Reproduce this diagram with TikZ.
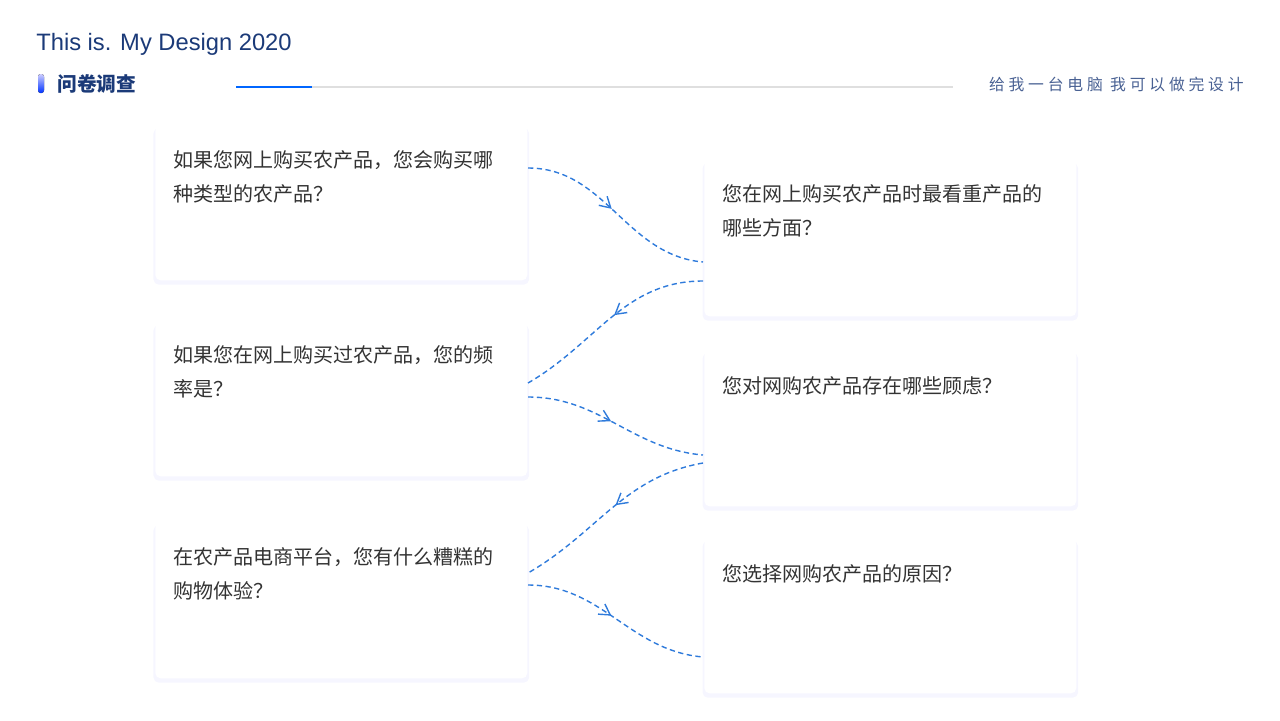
\documentclass[tikz,border=0pt]{standalone}
\usepackage{fontspec}
\setmainfont{Liberation Sans}
\newfontfamily\cjk{Noto Sans CJK SC}
\newfontfamily\cjkwide[LetterSpace=24]{Noto Sans CJK SC}
\usetikzlibrary{positioning,shadows,decorations.markings,arrows.meta}
\definecolor{navy}{HTML}{1B3A78}
\definecolor{linkblue}{HTML}{2F7BDB}
\definecolor{qtext}{HTML}{333333}
\tikzset{
  card/.style={fill=white, rounded corners=3pt, minimum width=7.44cm, anchor=north west,
    drop shadow={shadow xshift=0pt, shadow yshift=-2pt, shadow scale=1.01, fill=blue!20, opacity=0.18}},
  qlabel/.style={anchor=north west, align=left, text=qtext, font=\cjk\fontsize{11.4}{19.5}\selectfont},
  flow/.style={linkblue, dashed, thick, dash pattern=on 3pt off 2pt,
    postaction={decorate}, decoration={markings,
      mark=at position 0.47 with {\arrow[solid]{Straight Barb[length=6pt,width=7pt]}}}}
}
\begin{document}
\begin{tikzpicture}[x=0.02cm,y=-0.02cm]
    \useasboundingbox (0,0) rectangle (1280,720);
    % Header
    \node[anchor=west, text=navy, font=\fontsize{13.5}{16}\selectfont, inner sep=0] (title) at (36,44) {This is. My Design 2020};
    \fill[top color=blue!20, bottom color=blue!80!cyan, rounded corners=1.5pt] (38,74) rectangle (44,93);
    \node[anchor=west, text=navy, font=\cjk\bfseries\fontsize{11.2}{14}\selectfont, inner sep=0] (section) at (57,84) {问卷调查};
    \draw[gray!25, line width=0.6pt] (236,87) -- (953,87);
    \draw[blue!60!cyan, line width=1.6pt] (236,87) -- (312,87);
    \node[anchor=east, text=navy!80, font=\cjkwide\fontsize{9}{11}\selectfont, inner sep=0] (slogan) at (1244,84) {给我一台电脑 我可以做完设计};

    % Cards
    \node[card, minimum height=3.1cm] (L1) at (155,125) {};
    \node[card, minimum height=3.08cm] (L2) at (155,322) {};
    \node[card, minimum height=3.12cm] (L3) at (155,522) {};
    \node[card, minimum height=3.12cm] (R1) at (704,160) {};
    \node[card, minimum height=3.12cm] (R2) at (704,350) {};
    \node[card, minimum height=3.1cm] (R3) at (704,538) {};

    % Questions
    \node[qlabel] (q1) at (167,144) {如果您网上购买农产品，您会购买哪\\种类型的农产品？};
    \node[qlabel] (q2) at (167,339) {如果您在网上购买过农产品，您的频\\率是？};
    \node[qlabel] (q3) at (167,541) {在农产品电商平台，您有什么糟糕的\\购物体验？};
    \node[qlabel] (q4) at (716,178) {您在网上购买农产品时最看重产品的\\哪些方面？};
    \node[qlabel] (q5) at (716,370) {您对网购农产品存在哪些顾虑？};
    \node[qlabel] (q6) at (716,558) {您选择网购农产品的原因？};

    % Connectors
    \coordinate (a1) at (528,168);
    \coordinate (b1) at (703,262);
    \coordinate (b2) at (703,281);
    \coordinate (a2) at (528,383);
    \coordinate (a3) at (528,397);
    \coordinate (b3) at (703,455);
    \coordinate (b4) at (703,463);
    \coordinate (a4) at (528,573);
    \coordinate (a5) at (528,585);
    \coordinate (b5) at (703,657);
    \draw[flow] (a1) to[out=0, in=175] (b1);
    \draw[flow] (b2) to[out=180, in=30] (a2);
    \draw[flow] (a3) to[out=0, in=175] (b3);
    \draw[flow] (b4) to[out=190, in=30] (a4);
    \draw[flow] (a5) to[out=0, in=175] (b5);
\end{tikzpicture}
\end{document}
